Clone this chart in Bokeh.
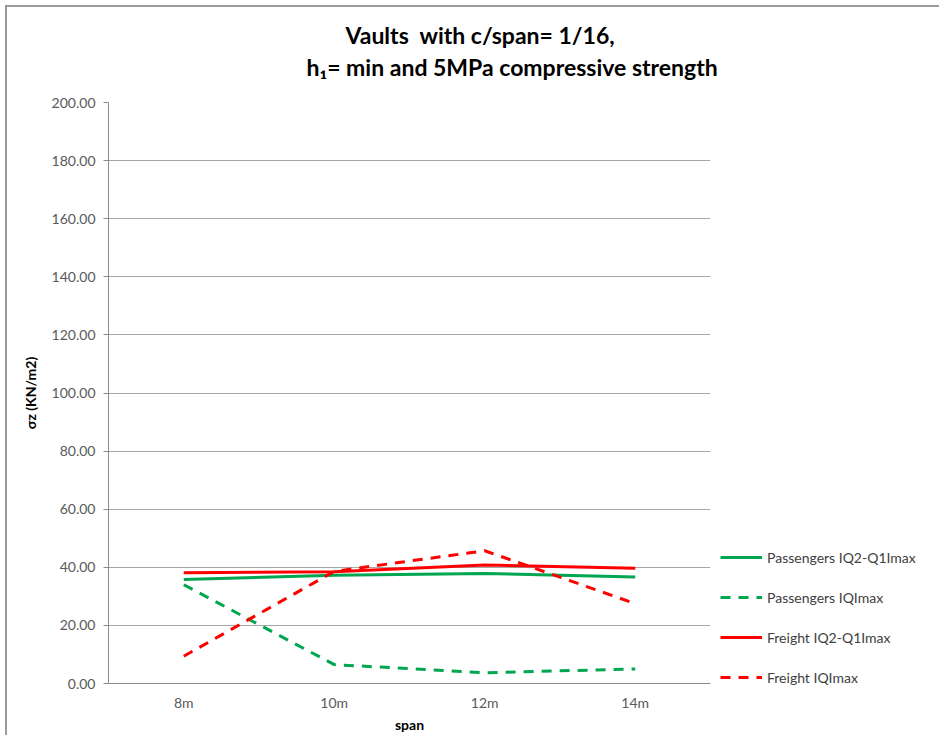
from bokeh.plotting import figure
from bokeh.models import (Range1d, FactorRange, Legend, LegendItem, Title,
                          FixedTicker, NumeralTickFormatter)
from bokeh.embed import file_html
from bokeh.resources import INLINE

spans = ["8m", "10m", "12m", "14m"]
passengers_q2q1 = [35.8, 37.3, 37.9, 36.7]
passengers_qmax = [34.0, 6.5, 3.7, 5.0]
freight_q2q1 = [38.1, 38.5, 40.8, 39.7]
freight_qmax = [9.4, 38.6, 45.7, 27.5]
y_ticks = [0, 20, 40, 60, 80, 100, 120, 140, 160, 180, 200]

FONT = "Lato"
GREEN = "#00A650"
RED = "#FF0000"

p = figure(frame_width=602, frame_height=581, output_backend="svg", toolbar_location=None,
           x_range=FactorRange(*spans, range_padding=0), y_range=Range1d(0, 200),
           min_border_left=101, min_border_right=10, min_border_top=95,
           min_border_bottom=42)
p.styles = {"border-left": "2px solid #9a9a9a", "border-top": "2px solid #9a9a9a",
            "margin": "5px 0px 0px 5px"}
p.outline_line_color = None
p.background_fill_color = "white"

r1 = p.line(spans, passengers_q2q1, line_color=GREEN, line_width=3)
r2 = p.line(spans, passengers_qmax, line_color=GREEN, line_width=3, line_dash="10 8")
r3 = p.line(spans, freight_q2q1, line_color=RED, line_width=3)
r4 = p.line(spans, freight_qmax, line_color=RED, line_width=3, line_dash="10 8")

# axes
p.yaxis.ticker = FixedTicker(ticks=y_ticks)
p.yaxis.formatter = NumeralTickFormatter(format="0.00")
p.yaxis.axis_label = "σz (KN/m2)"
p.xaxis.axis_label = "span"
for ax in (p.xaxis, p.yaxis):
    ax.axis_line_color = "#8c8c8c"
    ax.major_label_text_font = FONT
    ax.major_label_text_font_size = "14px"
    ax.major_label_text_color = "#595959"
    ax.axis_label_text_font = FONT
    ax.axis_label_text_font_size = "14px"
    ax.axis_label_text_font_style = "bold"
    ax.axis_label_text_color = "#000000"
    ax.minor_tick_line_color = None
p.yaxis.major_tick_line_color = "#8c8c8c"
p.yaxis.major_tick_out = 5
p.yaxis.major_tick_in = 0
p.yaxis.major_label_standoff = 8
p.yaxis.axis_label_standoff = 10
p.xaxis.major_tick_line_color = None
p.xaxis.major_label_standoff = 4
p.xaxis.axis_label_standoff = 2

p.xgrid.grid_line_color = None
p.ygrid.ticker = FixedTicker(ticks=y_ticks[:-1])
p.ygrid.grid_line_color = "#a6a6a6"
p.ygrid.grid_line_width = 1

# titles (first added is nearest the plot)
t2 = Title(text="h₁= min and 5MPa compressive strength", align="left",
           text_font=FONT, text_font_size="23px", text_font_style="bold",
           text_color="#000000", offset=198, standoff=44)
t1 = Title(text="Vaults \u00a0with c/span= 1/16,", align="left",
           text_font=FONT, text_font_size="23px", text_font_style="bold",
           text_color="#000000", offset=237, standoff=-40)
p.add_layout(t2, "above")
p.add_layout(t1, "above")

legend = Legend(items=[
    LegendItem(label="Passengers IQ2-Q1Imax", renderers=[r1]),
    LegendItem(label="Passengers IQImax", renderers=[r2]),
    LegendItem(label="Freight IQ2-Q1Imax", renderers=[r3]),
    LegendItem(label="Freight IQImax", renderers=[r4]),
], location=(10, -4), orientation="vertical",
    label_text_font=FONT, label_text_font_size="14px", label_text_color="#404040",
    glyph_width=42, glyph_height=20, label_height=20, spacing=20,
    label_standoff=5, padding=0, margin=0,
    border_line_color=None, background_fill_alpha=0)
p.add_layout(legend, "right")

open("out.html", "w").write(file_html(p, INLINE))
